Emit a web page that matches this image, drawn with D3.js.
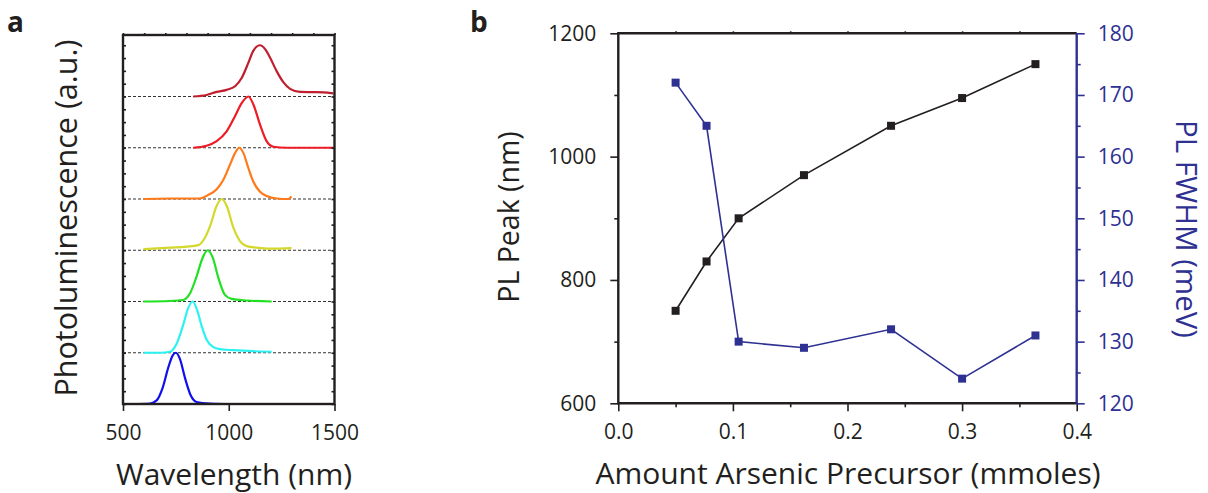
<!DOCTYPE html>
<html>
<head>
  <meta charset="utf-8">
  <title>PL spectra and peak / FWHM vs arsenic precursor</title>
  <script src="https://d3js.org/d3.v7.min.js"></script>
  <style>
    body { margin: 0; background: #fff; }
    text { font-family: "Open Sans", "Noto Sans", sans-serif; fill: #231f20; }
  </style>
</head>
<body>
<div id="chart"></div>
<script>
// ---- data: panel a, PL spectra (wavelength nm, normalised intensity) ----
var specBlue = [[549,0],[628,0.01],[659,0.07],[687,0.31],[714,0.71],[735,0.95],[750,1],[769,0.88],[793,0.51],[820,0.17],[848,0.04],[911,0.01],[1006,0]];
var specCyan = [[596,0],[675,0],[722,0.02],[754,0.18],[785,0.55],[809,0.88],[830,1],[852,0.81],[872,0.52],[896,0.25],[927,0.11],[958,0.07],[1022,0.05],[1116,0.03],[1203,0.02]];
var specGreen = [[596,0],[722,0.01],[785,0.03],[817,0.16],[848,0.49],[877,0.86],[900,1],[924,0.86],[951,0.46],[982,0.13],[1014,0.05],[1085,0.02],[1203,0]];
var specYellow = [[596,0.02],[722,0.05],[801,0.07],[856,0.1],[888,0.25],[915,0.51],[940,0.84],[967,1],[990,0.87],[1022,0.44],[1053,0.18],[1085,0.08],[1132,0.05],[1195,0.03],[1297,0.04]];
var specOrange = [[596,0],[722,0.01],[864,0.01],[903,0.08],[943,0.19],[974,0.37],[1006,0.67],[1030,0.9],[1050,1],[1069,0.9],[1093,0.6],[1116,0.34],[1148,0.14],[1179,0.06],[1227,0.01],[1282,0],[1297,0.05]];
var specRed = [[832,0],[895,0.04],[943,0.13],[990,0.32],[1030,0.62],[1061,0.87],[1093,1],[1116,0.85],[1148,0.45],[1179,0.13],[1211,0.02],[1274,0],[1494,0]];
var specDarkRed = [[832,0],[895,0.03],[943,0.09],[990,0.13],[1030,0.2],[1061,0.36],[1093,0.66],[1116,0.89],[1148,1],[1171,0.93],[1195,0.76],[1227,0.49],[1258,0.28],[1290,0.15],[1337,0.09],[1400,0.085],[1447,0.08],[1494,0.06]];
var spectra = [specBlue, specCyan, specGreen, specYellow, specOrange, specRed, specDarkRed];
var spectraColors = ["#1010ee", "#2ef2f2", "#22e022", "#d4d82c", "#ff7a1a", "#ee1c25", "#be1e2d"];
var wavelengthTicks = [500, 1000, 1500];

// ---- data: panel b ----
var amount = [0.05, 0.077, 0.105, 0.162, 0.238, 0.300, 0.364];
var plPeak = [750, 830, 900, 970, 1050, 1095, 1150];
var plFwhm = [172, 165, 130, 129, 132, 124, 131];
var amountTicks = [0, 0.1, 0.2, 0.3, 0.4];
var peakTicks = [600, 800, 1000, 1200];
var fwhmTicks = [120, 130, 140, 150, 160, 170, 180];

var ink = "#231f20", navy = "#2e3192";

var svg = d3.select("#chart").append("svg")
    .attr("width", 1208)
    .attr("height", 493);

// small helper: strip domain line, style ticks
function styleAxis(g, color, fs) {
  g.select(".domain").remove();
  g.selectAll("line").attr("stroke", color).attr("stroke-width", 1.6);
  g.selectAll("text").style("fill", color).style("font-size", fs + "px")
    .style("font-family", '"Open Sans", "Noto Sans", sans-serif');
}

// ================= panel a =================
var xA = d3.scaleLinear().domain([500, 1500]).range([123, 334.5]);
var yA = d3.scaleLinear().domain([0, 7.2]).range([404, 35]);

var pa = svg.append("g");

// dashed baselines
pa.selectAll(".base").data(d3.range(1, spectra.length)).enter().append("line")
  .attr("x1", xA(500)).attr("x2", xA(1500))
  .attr("y1", function(d) { return yA(d); }).attr("y2", function(d) { return yA(d); })
  .attr("stroke", "#333").attr("stroke-width", 1.1).attr("stroke-dasharray", "3,2");

// spectra, offset one unit each
spectra.forEach(function(s, i) {
  var line = d3.line()
    .x(function(d) { return xA(d[0]); })
    .y(function(d) { return yA(i + d[1]); })
    .curve(d3.curveMonotoneX);
  pa.append("path").datum(s)
    .attr("d", line)
    .attr("fill", "none")
    .attr("stroke", spectraColors[i])
    .attr("stroke-width", 2.2)
    .attr("stroke-linejoin", "round");
});

// ticks
pa.append("g").attr("transform", "translate(0,404)")
  .call(d3.axisBottom(xA).tickValues(wavelengthTicks).tickSize(7).tickPadding(14).tickFormat(d3.format("d")))
  .call(styleAxis, ink, 21);
pa.append("g").attr("transform", "translate(0,35)")
  .call(d3.axisTop(xA).ticks(10).tickSize(2).tickFormat(""))
  .call(styleAxis, ink, 21);
pa.append("g").attr("transform", "translate(123,0)")
  .call(d3.axisLeft(yA).tickValues(d3.range(0, 7.2, 0.25)).tickSize(-3).tickFormat(""))
  .call(styleAxis, ink, 21);
pa.append("g").attr("transform", "translate(334.5,0)")
  .call(d3.axisRight(yA).tickValues(d3.range(0, 7.2, 0.25)).tickSize(-3).tickFormat(""))
  .call(styleAxis, ink, 21);

// frame
pa.append("rect")
  .attr("x", xA(500)).attr("y", yA(7.2))
  .attr("width", xA(1500) - xA(500)).attr("height", yA(0) - yA(7.2))
  .attr("fill", "none").attr("stroke", ink).attr("stroke-width", 2.4);

pa.append("text").attr("x", 234).attr("y", 485)
  .attr("text-anchor", "middle").style("font-size", "30px")
  .text("Wavelength (nm)");
pa.append("text").attr("transform", "translate(77,218) rotate(-90)")
  .attr("text-anchor", "middle").style("font-size", "30.5px")
  .text("Photoluminescence (a.u.)");
pa.append("text").attr("x", 7).attr("y", 32)
  .style("font-size", "28px").style("font-weight", "bold")
  .text("a");

// ================= panel b =================
var xB = d3.scaleLinear().domain([0, 0.4]).range([618.3, 1076.7]);
var yL = d3.scaleLinear().domain([600, 1200]).range([403.3, 33.3]);
var yR = d3.scaleLinear().domain([120, 180]).range([403.3, 33.3]);

var pb = svg.append("g");

// minor ticks first, then major with labels
pb.append("g").attr("transform", "translate(0,403.3)")
  .call(d3.axisBottom(xB).tickValues([0.05, 0.15, 0.25, 0.35]).tickSize(4).tickFormat(""))
  .call(styleAxis, ink, 21);
pb.append("g").attr("transform", "translate(0,403.3)")
  .call(d3.axisBottom(xB).tickValues(amountTicks).tickSize(8).tickPadding(13).tickFormat(d3.format(".1f")))
  .call(styleAxis, ink, 21);
pb.append("g").attr("transform", "translate(0,33.3)")
  .call(d3.axisTop(xB).tickValues(d3.range(0.05, 0.4, 0.05)).tickSize(2).tickFormat(""))
  .call(styleAxis, ink, 21);
pb.append("g").attr("transform", "translate(618.3,0)")
  .call(d3.axisLeft(yL).tickValues([700, 900, 1100]).tickSize(4).tickFormat(""))
  .call(styleAxis, ink, 21);
pb.append("g").attr("transform", "translate(618.3,0)")
  .call(d3.axisLeft(yL).tickValues(peakTicks).tickSize(8).tickPadding(14).tickFormat(d3.format("d")))
  .call(styleAxis, ink, 21);
pb.append("g").attr("transform", "translate(1076.7,0)")
  .call(d3.axisRight(yR).tickValues(d3.range(125, 180, 10)).tickSize(4).tickFormat(""))
  .call(styleAxis, navy, 21);
pb.append("g").attr("transform", "translate(1076.7,0)")
  .call(d3.axisRight(yR).tickValues(fwhmTicks).tickSize(8).tickPadding(13).tickFormat(d3.format("d")))
  .call(styleAxis, navy, 21);

// frame: black left/top/bottom, navy right
pb.append("path")
  .attr("d", "M" + xB(0.4) + "," + yL(1200) + "H" + xB(0) + "V" + yL(600) + "H" + xB(0.4))
  .attr("fill", "none").attr("stroke", ink).attr("stroke-width", 2.4);
pb.append("line")
  .attr("x1", xB(0.4)).attr("x2", xB(0.4))
  .attr("y1", yR(180)).attr("y2", yR(120))
  .attr("stroke", navy).attr("stroke-width", 2.4);

// PL peak series (black)
var peakData = amount.map(function(a, i) { return [a, plPeak[i]]; });
pb.append("path").datum(peakData)
  .attr("d", d3.line().x(function(d) { return xB(d[0]); }).y(function(d) { return yL(d[1]); }))
  .attr("fill", "none").attr("stroke", ink).attr("stroke-width", 1.6);
pb.selectAll(".pk").data(peakData).enter().append("rect")
  .attr("x", function(d) { return xB(d[0]) - 4; })
  .attr("y", function(d) { return yL(d[1]) - 4; })
  .attr("width", 8).attr("height", 8).attr("fill", ink);

// FWHM series (navy)
var fwhmData = amount.map(function(a, i) { return [a, plFwhm[i]]; });
pb.append("path").datum(fwhmData)
  .attr("d", d3.line().x(function(d) { return xB(d[0]); }).y(function(d) { return yR(d[1]); }))
  .attr("fill", "none").attr("stroke", navy).attr("stroke-width", 1.6);
pb.selectAll(".fw").data(fwhmData).enter().append("rect")
  .attr("x", function(d) { return xB(d[0]) - 4; })
  .attr("y", function(d) { return yR(d[1]) - 4; })
  .attr("width", 8).attr("height", 8).attr("fill", navy);

pb.append("text").attr("x", 848).attr("y", 484)
  .attr("text-anchor", "middle").style("font-size", "30px")
  .text("Amount Arsenic Precursor (mmoles)");
pb.append("text").attr("transform", "translate(519,217) rotate(-90)")
  .attr("text-anchor", "middle").style("font-size", "28.5px")
  .text("PL Peak (nm)");
pb.append("text").attr("transform", "translate(1176,229) rotate(90)")
  .attr("text-anchor", "middle").style("font-size", "29.5px").style("fill", navy)
  .text("PL FWHM (meV)");
pb.append("text").attr("x", 470).attr("y", 32)
  .style("font-size", "28px").style("font-weight", "bold")
  .text("b");
</script>
</body>
</html>
